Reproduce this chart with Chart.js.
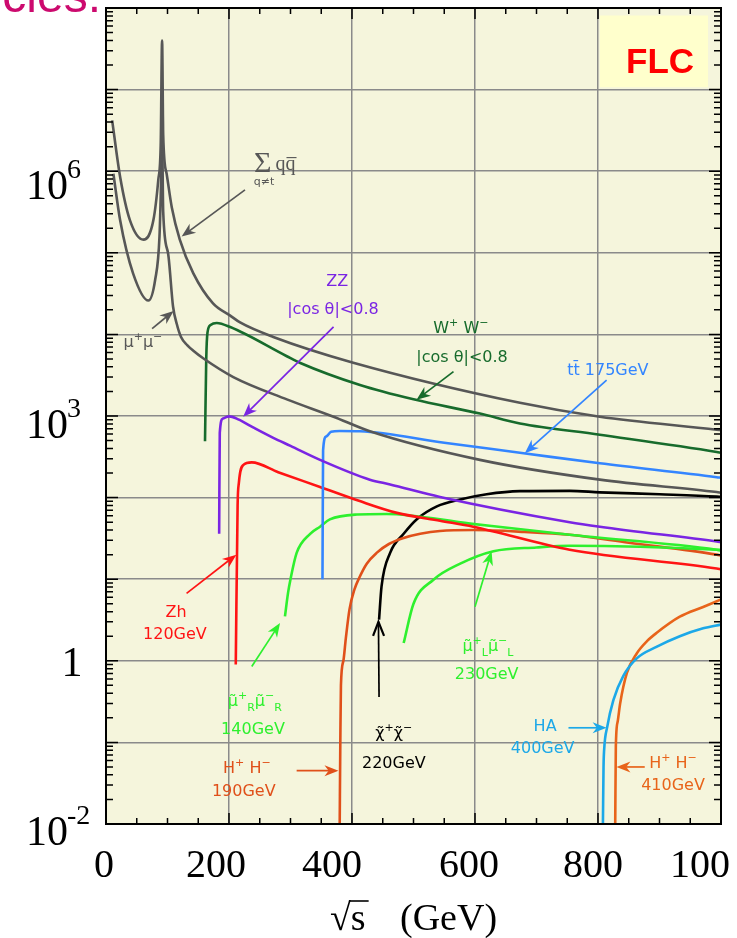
<!DOCTYPE html>
<html>
<head>
<meta charset="utf-8">
<script src="https://cdn.jsdelivr.net/npm/chart.js@4.4.1/dist/chart.umd.min.js"></script>
<style>
  html, body { margin: 0; padding: 0; background: #fff; }
  canvas { display: block; }
</style>
</head>
<body>
<canvas id="xsec" width="737" height="938"></canvas>
<script>
// ---------------------------------------------------------------------------
// Cross sections vs sqrt(s) (GeV)
// ---------------------------------------------------------------------------
const qqX = [10, 23, 39, 61, 77, 85, 89, 91.2, 93, 98.6, 107, 120, 142, 174, 202, 218, 272, 402, 673, 803, 993, 1000];
const qqY = [4.2e6, 8.5e5, 2.5e5, 1.45e5, 2.5e5, 7.8e5, 2.2e6, 4.0e7, 2.8e6, 9.3e5, 3.6e5, 1.45e5, 5.6e4, 2.4e4, 1.7e4, 1.4e4, 9.3e3, 4.5e3, 1.45e3, 980, 680, 670];

const mmX = [12, 23, 44, 69, 80, 87, 90, 91.2, 93, 101, 109, 115, 122, 132, 142, 158, 207, 294, 370, 429, 608, 803, 993, 1000];
const mmY = [9.3e5, 2.5e5, 5.6e4, 2.6e4, 4.7e4, 1.6e5, 1.0e6, 2.5e6, 3.2e5, 9.8e4, 2.2e4, 1.35e4, 9.3e3, 7.4e3, 6.3e3, 5.1e3, 3.0e3, 1.6e3, 980, 650, 290, 166, 117, 115];

const wwX = [161, 163, 165, 170, 180, 202, 294, 315, 413, 500, 608, 673, 803, 993, 1000];
const wwY = [490, 5000, 1.05e4, 1.3e4, 1.38e4, 1.23e4, 5.4e3, 4.5e3, 2.4e3, 1.6e3, 1.07e3, 810, 590, 363, 355];

const zzX = [184, 185, 190, 200, 215, 240, 272, 300, 348, 429, 462, 543, 754, 803, 993, 1000];
const zzY = [36, 620, 930, 990, 910, 720, 540, 430, 290, 166, 145, 102, 50, 44, 29, 28.5];

const ttX = [352, 353, 358, 366, 380, 413, 550, 679, 803, 993, 1000];
const ttY = [10, 380, 560, 640, 655, 650, 470, 350, 263, 178, 175];

const zhX = [211, 214, 216, 223, 237, 280, 348, 410, 473, 543, 597, 754, 993, 1000];
const zhY = [0.9, 80, 150, 250, 270, 205, 135, 92, 65, 52, 44, 23, 13.5, 13.2];

const smuRX = [291, 296, 300, 310, 332, 348, 364, 408, 456, 592, 754, 993, 1000];
const smuRY = [3.5, 6.8, 10, 21, 36, 44, 54, 62, 63, 48, 35, 23, 22.5];

const smuLX = [484, 500, 532, 576, 630, 700, 754, 993, 1000];
const smuLY = [1.65, 5, 9.8, 15.5, 22, 24.5, 25.7, 23, 22.8];

const hh190X = [380, 381, 382, 386, 390, 396, 404, 412, 424, 440, 460, 484, 511, 543, 597, 680, 754, 850, 993, 1000];
const hh190Y = [0.01, 0.1, 0.5, 1.0, 1.9, 4.3, 7.5, 10.5, 15.5, 21, 27, 32, 36, 39, 40, 38, 35, 28, 20, 19.5];

const chiX = [444, 448, 462, 484, 505, 538, 576, 619, 673, 754, 803, 900, 993, 1000];
const chiY = [3.2, 8.1, 21, 36, 54, 78, 95, 110, 120, 121, 116, 110, 103, 102];

const haX = [808, 809, 810, 815, 825, 841, 863, 895, 933, 971, 1000];
const haY = [0.01, 0.05, 0.081, 0.155, 0.33, 0.65, 1.07, 1.48, 2.0, 2.5, 2.78];

const hh410X = [828, 829, 832, 836, 847, 863, 880, 895, 933, 971, 1000];
const hh410Y = [0.01, 0.089, 0.18, 0.30, 0.71, 1.23, 1.75, 2.19, 3.47, 4.57, 5.65];

// ejes
const xGridValues = [200, 400, 600, 800];
const xTickValues = [0, 200, 400, 600, 800, 1000];
const xTickLabels = ['0', '200', '400', '600', '800', '1000'];
const yGridValues = [1e-1, 1, 10, 100, 1e3, 1e4, 1e5, 1e6, 1e7];
const yTickValues = [1e-2, 1, 1e3, 1e6];
const yTickBase = ['10', '1', '10', '10'];
const yTickExp = ['-2', '', '3', '6'];

// colores
const GRAY = '#575757', DKGREEN = '#176b2c', PURPLE = '#7a25e3', BLUE = '#3385ff',
      RED = '#ff1414', LTGREEN = '#2ef02e', H190 = '#e0501a', SKY = '#1ca8e8', ORANGE = '#e8641a';

// etiquetas y flechas (coordenadas en unidades de datos)
const noteLabels = [
  { x: 60,  y: 8.3e3,  color: GRAY,    segs: [['μ', ''], ['+', '^'], ['μ', ''], ['−', '^']] },
  { x: 376, y: 4.6e4,  color: PURPLE,  segs: [['ZZ', '']] },
  { x: 369, y: 2.1e4,  color: PURPLE,  segs: [['|cos θ|<0.8', '']] },
  { x: 577, y: 1.23e4, color: DKGREEN, segs: [['W', ''], ['+', '^'], [' W', ''], ['−', '^']] },
  { x: 579, y: 5.4e3,  color: DKGREEN, segs: [['|cos θ|<0.8', '']] },
  { x: 816, y: 3.7e3,  color: BLUE,    segs: [['tt\u0304 175GeV', '']] },
  { x: 114, y: 4.0,    color: RED,     segs: [['Zh', '']] },
  { x: 112, y: 2.2,    color: RED,     segs: [['120GeV', '']] },
  { x: 242, y: 0.33,   color: LTGREEN, segs: [['μ\u0303', ''], ['+', '^'], ['R', '_'], ['μ\u0303', ''], ['−', '^'], ['R', '_']] },
  { x: 239, y: 0.15,   color: LTGREEN, segs: [['140GeV', '']] },
  { x: 229, y: 0.049,  color: H190,    segs: [['H', ''], ['+', '^'], [' H', ''], ['−', '^']] },
  { x: 224, y: 0.026,  color: H190,    segs: [['190GeV', '']] },
  { x: 468, y: 0.134,  color: '#000',  segs: [['χ\u0303', ''], ['+', '^'], ['χ\u0303', ''], ['−', '^']] },
  { x: 468, y: 0.057,  color: '#000',  segs: [['220GeV', '']] },
  { x: 621, y: 1.56,   color: LTGREEN, segs: [['μ\u0303', ''], ['+', '^'], ['L', '_'], ['μ\u0303', ''], ['−', '^'], ['L', '_']] },
  { x: 619, y: 0.71,   color: LTGREEN, segs: [['230GeV', '']] },
  { x: 714, y: 0.163,  color: SKY,     segs: [['HA', '']] },
  { x: 710, y: 0.087,  color: SKY,     segs: [['400GeV', '']] },
  { x: 922, y: 0.057,  color: ORANGE,  segs: [['H', ''], ['+', '^'], [' H', ''], ['−', '^']] },
  { x: 922, y: 0.031,  color: ORANGE,  segs: [['410GeV', '']] }
];

const noteArrows = [
  { from: [226, 5.9e5], to: [123, 1.58e5], color: GRAY },
  { from: [75, 1.18e4], to: [110, 1.94e4], color: GRAY },
  { from: [370, 1.24e4], to: [223, 980], color: PURPLE },
  { from: [565, 3.5e3], to: [505, 1.58e3], color: DKGREEN },
  { from: [814, 2.75e3], to: [681, 350], color: BLUE },
  { from: [131, 6.7], to: [212, 20], color: RED },
  { from: [237, 0.85], to: [283, 2.9], color: LTGREEN },
  { from: [310, 0.045], to: [378, 0.045], color: H190 },
  { from: [444, 0.36], to: [443, 3.0], color: '#000', open: true },
  { from: [600, 4.6], to: [627, 22], color: LTGREEN },
  { from: [752, 0.151], to: [814, 0.151], color: SKY },
  { from: [876, 0.05], to: [830, 0.05], color: ORANGE }
];

const SERIF = "'Liberation Serif', 'DejaVu Serif', serif";
const SANS = "'DejaVu Sans', sans-serif";

function pts(xs, ys) {
  return xs.map((x, i) => ({ x: x, y: ys[i] }));
}

function curve(xs, ys, color) {
  return {
    data: pts(xs, ys),
    borderColor: color,
    borderWidth: 2.6,
    pointRadius: 0,
    fill: false,
    cubicInterpolationMode: 'monotone'
  };
}

// texto con super/subíndices, centrado en (cx, cy)
function richText(ctx, segs, cx, cy, size, color, family) {
  const parts = segs.map(([t, m]) => ({ t: t, m: m, s: m ? Math.round(size * 0.7) : size }));
  let total = 0;
  parts.forEach(p => {
    ctx.font = p.s + 'px ' + family;
    p.w = ctx.measureText(p.t).width;
    total += p.w;
  });
  let x = cx - total / 2;
  ctx.fillStyle = color;
  ctx.textAlign = 'left';
  ctx.textBaseline = 'alphabetic';
  parts.forEach(p => {
    ctx.font = p.s + 'px ' + family;
    const dy = p.m === '^' ? -size * 0.45 : (p.m === '_' ? size * 0.35 : 0);
    ctx.fillText(p.t, x, cy + size * 0.36 + dy);
    x += p.w;
  });
}

function drawArrow(ctx, x1, y1, x2, y2, color, open) {
  const ang = Math.atan2(y2 - y1, x2 - x1);
  const c = Math.cos(ang), s = Math.sin(ang);
  const L = 14, W = 5.5;
  ctx.strokeStyle = color;
  ctx.fillStyle = color;
  ctx.lineWidth = 1.7;
  ctx.beginPath();
  ctx.moveTo(x1, y1);
  ctx.lineTo(open ? x2 : x2 - c * L * 0.6, open ? y2 : y2 - s * L * 0.6);
  ctx.stroke();
  const bx = x2 - c * L, by = y2 - s * L;
  if (open) {
    ctx.beginPath();
    ctx.moveTo(bx - s * W, by + c * W);
    ctx.lineTo(x2, y2);
    ctx.lineTo(bx + s * W, by - c * W);
    ctx.lineWidth = 2.2;
    ctx.stroke();
  } else {
    ctx.beginPath();
    ctx.moveTo(x2, y2);
    ctx.lineTo(bx - s * W, by + c * W);
    ctx.lineTo(x2 - c * L * 0.7, y2 - s * L * 0.7);
    ctx.lineTo(bx + s * W, by - c * W);
    ctx.closePath();
    ctx.fill();
  }
}

const frameAndNotes = {
  id: 'frameAndNotes',
  beforeDraw(chart) {
    const { ctx, chartArea: a } = chart;
    ctx.save();
    ctx.fillStyle = '#ffffff';
    ctx.fillRect(0, 0, chart.width, chart.height);
    ctx.fillStyle = '#f5f5dc';
    ctx.fillRect(a.left, a.top, a.right - a.left, a.bottom - a.top);
    ctx.restore();
  },
  afterDraw(chart) {
    const { ctx, chartArea: a } = chart;
    const xs = chart.scales.x, ys = chart.scales.y;
    const px = v => xs.getPixelForValue(v);
    const py = v => ys.getPixelForValue(v);
    ctx.save();

    // recuadro FLC
    ctx.fillStyle = '#ffffcc';
    ctx.fillRect(px(803), py(8.1e7), px(979) - px(803), py(1.07e7) - py(8.1e7));
    ctx.fillStyle = '#ff0000';
    ctx.font = 'bold 35px Arial, "Liberation Sans", sans-serif';
    ctx.textAlign = 'center';
    ctx.textBaseline = 'alphabetic';
    ctx.fillText('FLC', px(901), py(2.3e7) + 13);

    // marco
    ctx.strokeStyle = '#000';
    ctx.lineWidth = 2;
    ctx.strokeRect(a.left, a.top, a.right - a.left, a.bottom - a.top);

    // marcas del eje x (cada 50 GeV)
    ctx.lineWidth = 1.5;
    ctx.beginPath();
    for (let v = 50; v < 1000; v += 50) {
      const len = v % 200 === 0 ? 11 : 6;
      const x = px(v);
      ctx.moveTo(x, a.bottom); ctx.lineTo(x, a.bottom - len);
      ctx.moveTo(x, a.top); ctx.lineTo(x, a.top + len);
    }
    // marcas logarítmicas del eje y
    for (let e = -2; e < 8; e++) {
      for (let m = 1; m < 10; m++) {
        const y = py(m * Math.pow(10, e));
        const len = m === 1 ? 12 : 7;
        ctx.moveTo(a.left, y); ctx.lineTo(a.left + len, y);
        ctx.moveTo(a.right, y); ctx.lineTo(a.right - len, y);
      }
    }
    ctx.stroke();

    // etiquetas del eje x (la última queda cortada por el borde)
    const xNudge = [-2, -13, -20, -6, -5, -11];
    ctx.fillStyle = '#000';
    ctx.font = '40px ' + SERIF;
    ctx.textAlign = 'center';
    ctx.save();
    ctx.beginPath();
    ctx.rect(0, 830, 729, 60);
    ctx.clip();
    xTickValues.forEach((v, i) => ctx.fillText(xTickLabels[i], px(v) + xNudge[i], 877));
    ctx.restore();

    // etiquetas del eje y
    const yNudge = [21, 15, 22, 28];
    yTickValues.forEach((v, i) => {
      const base = py(v) + yNudge[i];
      ctx.font = '42px ' + SERIF;
      if (yTickExp[i]) {
        ctx.textAlign = 'right';
        ctx.fillText(yTickBase[i], 68, base);
        ctx.font = '28px ' + SERIF;
        ctx.textAlign = 'left';
        ctx.fillText(yTickExp[i], 67, base - 21);
      } else {
        ctx.textAlign = 'center';
        ctx.fillText(yTickBase[i], 72, base);
      }
    });

    // título del eje x: √s (GeV), con la barra unida a la raíz
    ctx.font = '38px ' + SERIF;
    ctx.textAlign = 'left';
    const rootM = ctx.measureText('√');
    const rootW = rootM.width;
    const rootTop = 930 - (rootM.actualBoundingBoxAscent || 30);
    ctx.fillText('√', 330, 930);
    ctx.fillText('s', 330 + rootW, 930);
    const sW = ctx.measureText('s').width;
    ctx.lineWidth = 1.6;
    ctx.beginPath();
    ctx.moveTo(330 + rootW - 2, rootTop + 1);
    ctx.lineTo(330 + rootW + sW + 3, rootTop + 1);
    ctx.stroke();
    ctx.fillText('(GeV)', 400, 930);

    // texto de la diapositiva cortado arriba a la izquierda
    ctx.fillStyle = '#cc0a6e';
    ctx.font = '48px Arial, "Liberation Sans", sans-serif';
    ctx.textAlign = 'right';
    ctx.fillText('cles.', 101, 12);

    // Σ qq̄ (q≠t)
    ctx.fillStyle = GRAY;
    ctx.textAlign = 'center';
    ctx.font = '30px ' + SERIF;
    ctx.fillText('Σ', px(255), py(1.3e6) + 10);
    ctx.font = '20px ' + SERIF;
    ctx.fillText('qq\u0305', px(292), py(1.25e6) + 7);
    ctx.font = '11px ' + SANS;
    ctx.fillText('q≠t', px(257), py(7.6e5) + 4);

    // flechas y etiquetas
    noteArrows.forEach(n => drawArrow(ctx, px(n.from[0]), py(n.from[1]), px(n.to[0]), py(n.to[1]), n.color, n.open));
    noteLabels.forEach(n => richText(ctx, n.segs, px(n.x), py(n.y), 16, n.color, SANS));

    ctx.restore();
  }
};

new Chart(document.getElementById('xsec'), {
  type: 'line',
  data: {
    datasets: [
      curve(qqX, qqY, GRAY),
      curve(mmX, mmY, GRAY),
      curve(wwX, wwY, DKGREEN),
      curve(zzX, zzY, PURPLE),
      curve(ttX, ttY, BLUE),
      curve(zhX, zhY, RED),
      curve(smuRX, smuRY, LTGREEN),
      curve(smuLX, smuLY, LTGREEN),
      curve(hh190X, hh190Y, H190),
      curve(chiX, chiY, '#000000'),
      curve(haX, haY, SKY),
      curve(hh410X, hh410Y, ORANGE)
    ]
  },
  options: {
    responsive: false,
    animation: false,
    events: [],
    layout: { padding: { left: 106, right: 16, top: 8, bottom: 114 } },
    plugins: { legend: { display: false }, tooltip: { enabled: false } },
    scales: {
      x: {
        type: 'linear',
        min: 0,
        max: 1000,
        afterBuildTicks: s => { s.ticks = xGridValues.map(v => ({ value: v })); },
        ticks: { display: false },
        grid: { color: '#8a8a8a', lineWidth: 1.5, drawTicks: false },
        border: { display: false }
      },
      y: {
        type: 'logarithmic',
        min: 1e-2,
        max: 1e8,
        afterBuildTicks: s => { s.ticks = yGridValues.map(v => ({ value: v })); },
        ticks: { display: false },
        grid: { color: '#8a8a8a', lineWidth: 1.5, drawTicks: false },
        border: { display: false }
      }
    }
  },
  plugins: [frameAndNotes]
});
</script>
</body>
</html>
